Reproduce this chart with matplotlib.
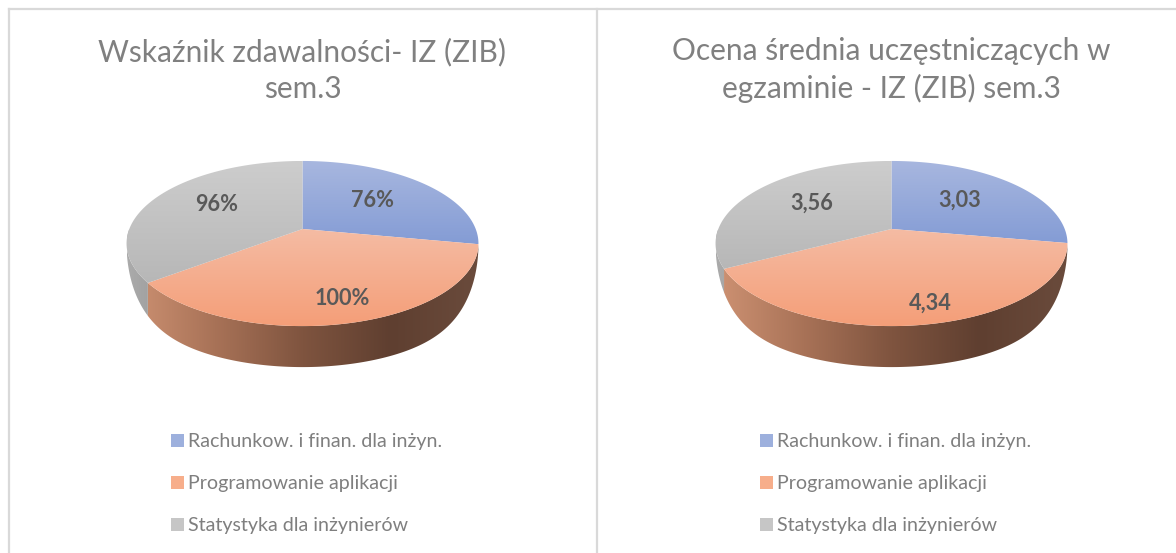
import numpy as np
import matplotlib
matplotlib.use("Agg")
import matplotlib.pyplot as plt
from matplotlib.colors import LinearSegmentedColormap
from matplotlib.patches import Polygon, Rectangle

plt.rcParams['font.family'] = ['Lato', 'DejaVu Sans']

categories = ["Rachunkow. i finan. dla inżyn.", "Programowanie aplikacji", "Statystyka dla inżynierów"]

title_left = "Wskaźnik zdawalności- IZ (ZIB)\nsem.3"
values_left = [76, 100, 96]
labels_left = ["76%", "100%", "96%"]

title_right = "Ocena średnia uczęstniczących w\negzaminie - IZ (ZIB) sem.3"
values_right = [3.03, 4.34, 3.56]
labels_right = ["3,03", "4,34", "3,56"]

# top face gradients (top colour, bottom colour)
top_colors = [("#A8B7DF", "#849CD5"), ("#F5BCA4", "#F49E78"), ("#CDCDCD", "#B7B7B7")]
swatch_colors = ["#9DB0DD", "#F7AE8B", "#C6C6C6"]
side_orange = ["#CE9273", "#A87257", "#7F543F", "#5F3F30", "#6A4B3C"]
side_gray = ["#ABABAB", "#9C9C9C"]

# perspective of the pie, in pixels
apex_y = 229
rx = 173.2
persp = 0.176
ry = 39.7
rim_height = 41


def project(cx, theta, r=1.0):
    u = r * np.sin(theta)
    v = r * np.cos(theta)
    w = 1 + persp * v
    return cx + rx * u / w, (apex_y - ry * v) / w


def fill_gradient(ax, pts, colors, horizontal=False, extent=None):
    cmap = LinearSegmentedColormap.from_list("g", colors)
    grad = np.linspace(0, 1, 256)
    grad = grad.reshape(1, -1) if horizontal else grad.reshape(-1, 1)
    im = ax.imshow(grad, cmap=cmap, extent=extent, aspect='auto', zorder=2, interpolation='bilinear')
    patch = Polygon(pts, closed=True, transform=ax.transData, fc='none', ec='none')
    ax.add_patch(patch)
    im.set_clip_path(patch)


def draw_side(ax, cx, t1, t2, colors, x0, x1):
    # only the front half of the rim shows
    t1 = max(t1, np.pi / 2)
    t2 = min(t2, 3 * np.pi / 2)
    if t2 <= t1:
        return
    t = np.linspace(t1, t2, 300)
    x, y = project(cx, t)
    d = np.clip(np.abs(x - cx) / 176, 0, 1)
    low = y + rim_height * np.sqrt(1 - d ** 8)
    pts = np.r_[np.c_[x, y], np.c_[x, low][::-1]]
    fill_gradient(ax, pts, colors, horizontal=True, extent=(x0, x1, 400, 200))


def draw_pie(ax, cx, values, labels, title, label_r, label_dx, label_dy):
    fracs = np.array(values) / sum(values)
    edges = np.r_[0, np.cumsum(fracs)] * 2 * np.pi

    # rim first, then the faces on top
    draw_side(ax, cx, edges[1], edges[2], side_orange, cx - 176, cx + 176)
    draw_side(ax, cx, edges[2], edges[3], side_gray, cx - 176, cx - 140)

    for i in range(3):
        t = np.linspace(edges[i], edges[i + 1], 200)
        x, y = project(cx, t)
        pts = np.r_[[[cx, apex_y]], np.c_[x, y]]
        ymin, ymax = pts[:, 1].min(), pts[:, 1].max()
        fill_gradient(ax, pts, top_colors[i], extent=(cx - 180, cx + 180, ymax, ymin))

    for i in range(3):
        mid = (edges[i] + edges[i + 1]) / 2
        lx, ly = project(cx, mid, label_r[i])
        ax.text(lx + label_dx[i], ly + label_dy[i], labels[i], ha='center', va='center', fontsize=15.6,
                fontweight='bold', color='#595959', zorder=5)

    ax.text(cx, 70, title, ha='center', va='center', fontsize=21.5, color='#808080',
            linespacing=1.38, zorder=5)

    for i, cat in enumerate(categories):
        y = 447 + i * 42
        ax.add_patch(Rectangle((cx - 131.5, y - 13), 13, 13, fc=swatch_colors[i], ec='none', zorder=3))
        ax.text(cx - 114.5, y, cat, ha='left', va='baseline', fontsize=14.1, color='#7F7F7F', zorder=5)


fig = plt.figure(figsize=(11.76, 5.53), dpi=100)
ax = fig.add_axes([0, 0, 1, 1])

draw_pie(ax, 302.5, values_left, labels_left, title_left, [0.58, 0.76, 0.58], [-3, 5, 0], [-1, 1, -5])
draw_pie(ax, 891.5, values_right, labels_right, title_right, [0.58, 0.76, 0.58], [-4, 16, 2], [-1, 5, -3])

# panel borders
ax.plot([9, 1176], [9, 9], color='#D9D9D9', lw=1.6, zorder=1)
ax.plot([9, 9], [9, 553], color='#D9D9D9', lw=1.6, zorder=1)
ax.plot([597, 597], [9, 553], color='#D9D9D9', lw=1.6, zorder=1)

ax.set_xlim(0, 1176)
ax.set_ylim(553, 0)
ax.axis('off')

fig.savefig("out.png", dpi=100, facecolor='white')
